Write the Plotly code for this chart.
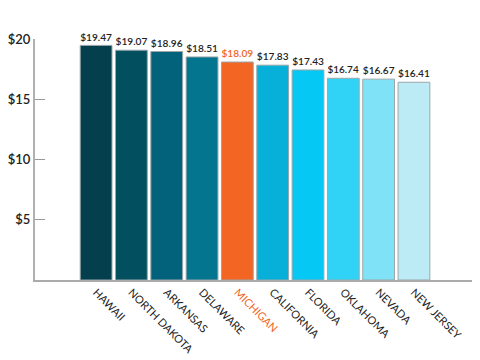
import plotly.graph_objects as go

states = ["HAWAII", "NORTH DAKOTA", "ARKANSAS", "DELAWARE", "MICHIGAN",
          "CALIFORNIA", "FLORIDA", "OKLAHOMA", "NEVADA", "NEW JERSEY"]
wages = [19.47, 19.07, 18.96, 18.51, 18.09, 17.83, 17.43, 16.74, 16.67, 16.41]
colors = ["#033f4c", "#02505f", "#03627b", "#04758f", "#f26522",
          "#06b0d9", "#05c8f4", "#30d3f5", "#80e2f6", "#bcebf6"]
label_colors = ["#222222"] * 4 + ["#f26522"] + ["#222222"] * 5
y_ticks = [5, 10, 15, 20]
y_ticktext = ["$5", "$10", "$15", "$20"]

ticktext = [f'<span style="color:#f26522">{s}</span>' if s == "MICHIGAN" else s for s in states]

fig = go.Figure(go.Bar(
    x=list(range(len(states))), y=wages,
    marker=dict(color=colors, line=dict(color="#9aa7ab", width=1)),
    text=[f"${v:.2f}" for v in wages], textposition="outside",
    textfont=dict(family="Lato", size=11, color=label_colors, weight=600),
    cliponaxis=False, width=0.9,
))
fig.update_layout(
    width=480, height=360, margin=dict(l=27, r=14, t=31, b=88),
    plot_bgcolor="white", paper_bgcolor="white", showlegend=False,
    font=dict(family="Lato", color="#222222"),
)
fig.update_xaxes(
    tickmode="array", tickvals=list(range(len(states))), ticktext=ticktext,
    tickangle=45, tickfont=dict(family="Lato", size=11, color="#222222"),
    range=[-1.73, 10.7], showline=True, linecolor="#aaaaaa", linewidth=1.5,
    showgrid=False, ticks="", zeroline=False, automargin=False,
)
fig.update_yaxes(
    range=[0, 20], tickmode="array", tickvals=y_ticks, ticktext=y_ticktext,
    tickfont=dict(family="Lato", size=13, color="#222222", weight=600),
    showline=True, linecolor="#b0b0b0", linewidth=2, ticks="inside",
    ticklen=10, tickcolor="#999999", tickwidth=1, showgrid=False, zeroline=False,
    automargin=False,
)
fig.write_html("out.html")
